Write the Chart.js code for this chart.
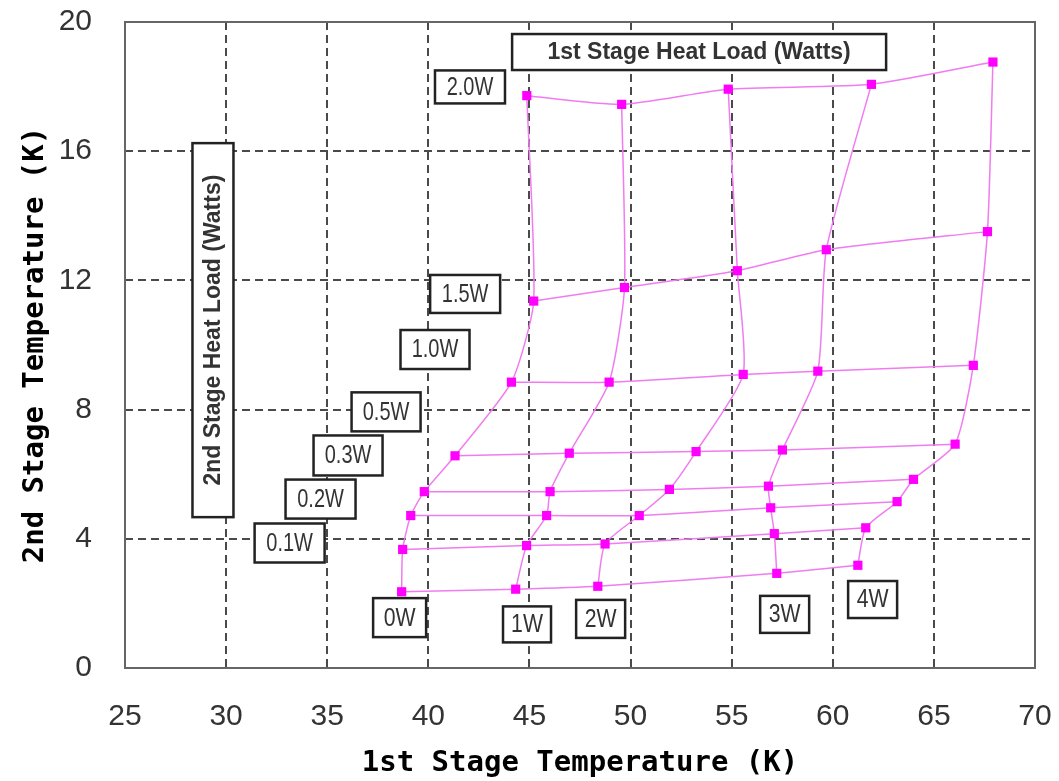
<!DOCTYPE html>
<html><head><meta charset="utf-8">
<script src="https://cdn.jsdelivr.net/npm/chart.js@4.4.1/dist/chart.umd.min.js"></script>
<style>html,body{margin:0;padding:0;background:#fff}#wrap{width:1059px;height:781px}</style>
</head><body><div id="wrap"><canvas id="c" width="1059" height="781"></canvas></div>
<script>
// 2nd stage heat loads (rows) and 1st stage heat loads (columns)
const stage2Loads = ['0W', '0.1W', '0.2W', '0.3W', '0.5W', '1.0W', '1.5W', '2.0W'];
const stage1Loads = ['0W', '1W', '2W', '3W', '4W'];

// For each 1st stage load: 1st stage temperature (K) and 2nd stage temperature (K), indexed by 2nd stage load
const t1_0W = [38.68, 38.73, 39.13, 39.80, 41.32, 44.11, 45.21, 44.87];
const t2_0W = [2.36, 3.67, 4.72, 5.46, 6.57, 8.85, 11.36, 17.72];
const t1_1W = [44.32, 44.86, 45.85, 46.02, 46.97, 48.94, 49.70, 49.56];
const t2_1W = [2.44, 3.79, 4.72, 5.46, 6.65, 8.85, 11.78, 17.45];
const t1_2W = [48.38, 48.74, 50.43, 51.92, 53.24, 55.57, 55.28, 54.83];
const t2_2W = [2.53, 3.84, 4.72, 5.53, 6.70, 9.09, 12.30, 17.92];
const t1_3W = [57.23, 57.11, 56.93, 56.82, 57.51, 59.26, 59.68, 61.91];
const t2_3W = [2.93, 4.16, 4.96, 5.63, 6.75, 9.19, 12.95, 18.07];
const t1_4W = [61.24, 61.63, 63.18, 63.99, 66.05, 66.95, 67.65, 67.92];
const t2_4W = [3.18, 4.34, 5.15, 5.84, 6.93, 9.37, 13.51, 18.76];

const xTicks = [25, 30, 35, 40, 45, 50, 55, 60, 65, 70];
const yTicks = [0, 4, 8, 12, 16, 20];

const colsX = [t1_0W, t1_1W, t1_2W, t1_3W, t1_4W];
const colsY = [t2_0W, t2_1W, t2_2W, t2_3W, t2_4W];

const LINE = '#f07cf0';
const MARK = '#ff00ff';

const datasets = [];
stage1Loads.forEach((name, c) => {
  datasets.push({
    label: '1st stage ' + name,
    data: colsX[c].map((x, r) => ({x, y: colsY[c][r]})),
    showLine: true, borderColor: LINE, borderWidth: 1.5, tension: 0.2,
    pointStyle: 'rect', pointRadius: 6.5, pointBackgroundColor: MARK, pointBorderWidth: 0,
    fill: false
  });
});
stage2Loads.forEach((name, r) => {
  datasets.push({
    label: '2nd stage ' + name,
    data: colsX.map((xs, c) => ({x: xs[r], y: colsY[c][r]})),
    showLine: true, borderColor: LINE, borderWidth: 1.5, tension: 0.2,
    pointRadius: 0, fill: false
  });
});

// annotation boxes: centre in data units, size in px
const notes = [
  {text: '1st Stage Heat Load (Watts)', x: 53.39, y: 19.07, w: 374, h: 36, font: 'bold 23px "Liberation Sans"', sx: 1, rot: 0},
  {text: '2nd Stage Heat Load (Watts)', x: 29.35, y: 10.46, w: 41, h: 374, font: 'bold 23px "Liberation Sans"', sx: 1, rot: -Math.PI/2},
  {text: '2.0W', x: 42.06, y: 17.99, w: 70, h: 33, font: '25px "Liberation Sans"', sx: 0.8, rot: 0},
  {text: '1.5W', x: 41.82, y: 11.58, w: 70, h: 38, font: '25px "Liberation Sans"', sx: 0.8, rot: 0},
  {text: '1.0W', x: 40.33, y: 9.86, w: 69, h: 39, font: '25px "Liberation Sans"', sx: 0.8, rot: 0},
  {text: '0.5W', x: 37.91, y: 7.93, w: 69, h: 39, font: '25px "Liberation Sans"', sx: 0.8, rot: 0},
  {text: '0.3W', x: 36.03, y: 6.58, w: 69, h: 40, font: '25px "Liberation Sans"', sx: 0.8, rot: 0},
  {text: '0.2W', x: 34.67, y: 5.23, w: 70, h: 39, font: '25px "Liberation Sans"', sx: 0.8, rot: 0},
  {text: '0.1W', x: 33.14, y: 3.87, w: 70, h: 39, font: '25px "Liberation Sans"', sx: 0.8, rot: 0},
  {text: '0W', x: 38.58, y: 1.56, w: 53, h: 39, font: '25px "Liberation Sans"', sx: 0.85, rot: 0},
  {text: '1W', x: 44.88, y: 1.35, w: 48, h: 36, font: '25px "Liberation Sans"', sx: 0.85, rot: 0},
  {text: '2W', x: 48.52, y: 1.52, w: 49, h: 38, font: '25px "Liberation Sans"', sx: 0.85, rot: 0},
  {text: '3W', x: 57.62, y: 1.66, w: 49, h: 37, font: '25px "Liberation Sans"', sx: 0.85, rot: 0},
  {text: '4W', x: 61.97, y: 2.12, w: 49, h: 37, font: '25px "Liberation Sans"', sx: 0.85, rot: 0}
];

const annotPlugin = {
  id: 'annot',
  afterDatasetsDraw(chart) {
    const ctx = chart.ctx, xs = chart.scales.x, ys = chart.scales.y;
    notes.forEach(n => {
      const cx = xs.getPixelForValue(n.x), cy = ys.getPixelForValue(n.y);
      ctx.save();
      ctx.fillStyle = '#fff';
      ctx.strokeStyle = '#222';
      ctx.lineWidth = 2.5;
      ctx.fillRect(cx - n.w/2, cy - n.h/2, n.w, n.h);
      ctx.strokeRect(cx - n.w/2, cy - n.h/2, n.w, n.h);
      ctx.translate(cx, cy);
      ctx.rotate(n.rot);
      ctx.scale(n.sx, 1);
      ctx.font = n.font;
      ctx.fillStyle = '#333';
      ctx.textAlign = 'center';
      ctx.textBaseline = 'middle';
      ctx.fillText(n.text, 0, 1);
      ctx.restore();
    });
  },
  afterDraw(chart) {
    const {ctx, chartArea: a} = chart;
    ctx.save();
    ctx.strokeStyle = '#666';
    ctx.lineWidth = 2;
    ctx.strokeRect(a.left, a.top, a.right - a.left, a.bottom - a.top);
    ctx.restore();
  }
};

new Chart(document.getElementById('c'), {
  type: 'scatter',
  data: {datasets},
  plugins: [annotPlugin],
  options: {
    responsive: false,
    animation: false,
    layout: {padding: {top: 22, right: 24, left: 0, bottom: 0}, autoPadding: false},
    plugins: {legend: {display: false}, tooltip: {enabled: false}},
    scales: {
      x: {
        type: 'linear', min: 25, max: 70,
        afterBuildTicks: s => { s.ticks = xTicks.map(v => ({value: v})); },
        afterFit: s => { s.height = 113; s.paddingLeft = 0; s.paddingRight = 0; },
        ticks: {font: {family: '"Liberation Sans"', size: 30}, color: '#333', padding: 31},
        grid: {color: '#4a4a4a', lineWidth: 2, drawTicks: false},
        border: {display: false, dash: [8, 5]},
        title: {display: true, text: '1st Stage Temperature (K)', color: '#000',
          font: {family: '"DejaVu Sans Mono"', size: 29, weight: 'bold'}, padding: {top: 0, bottom: 0}}
      },
      y: {
        type: 'linear', min: 0, max: 20,
        afterBuildTicks: s => { s.ticks = yTicks.map(v => ({value: v})); },
        afterFit: s => { s.width = 125; s.paddingTop = 0; s.paddingBottom = 0; },
        ticks: {font: {family: '"Liberation Sans"', size: 30}, color: '#333', padding: 33},
        grid: {color: '#4a4a4a', lineWidth: 2, drawTicks: false},
        border: {display: false, dash: [8, 5]},
        title: {display: true, text: '2nd Stage Temperature (K)', color: '#000',
          font: {family: '"DejaVu Sans Mono"', size: 29, weight: 'bold'}, padding: {top: 18, bottom: 0}}
      }
    }
  }
});
</script></body></html>
